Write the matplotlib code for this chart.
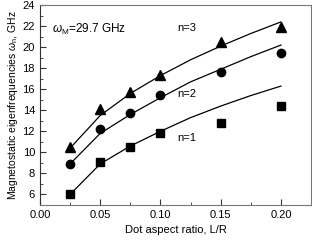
import matplotlib.pyplot as plt
from matplotlib.ticker import MultipleLocator

plt.rcParams['font.family'] = ['Liberation Sans', 'DejaVu Sans']
plt.rcParams['mathtext.fontset'] = 'custom'
plt.rcParams['mathtext.rm'] = 'Liberation Sans'
plt.rcParams['mathtext.it'] = 'Liberation Sans:italic'

# measured points
x_pts = [0.025, 0.05, 0.075, 0.10, 0.15, 0.20]
n1_pts = [6.0, 9.1, 10.5, 11.8, 12.8, 14.4]
n2_pts = [8.9, 12.2, 13.7, 15.5, 17.6, 19.4]
n3_pts = [10.5, 14.1, 15.7, 17.4, 20.5, 21.9]

# theory curves
x_th = [0.025, 0.05, 0.075, 0.10, 0.125, 0.15, 0.175, 0.20]
n1_th = [6.0, 8.9, 10.6, 12.0, 13.3, 14.4, 15.4, 16.3]
n2_th = [8.9, 11.8, 13.6, 15.2, 16.7, 17.9, 19.1, 20.2]
n3_th = [10.4, 13.5, 15.6, 17.3, 18.8, 20.1, 21.3, 22.4]

fig = plt.figure(figsize=(3.12, 2.42), dpi=100)
ax = fig.add_axes([0.128, 0.153, 0.869, 0.826])

for yth in (n1_th, n2_th, n3_th):
    ax.plot(x_th, yth, color='black', lw=0.9)

ax.plot(x_pts, n1_pts, 's', color='black', ms=5.5)
ax.plot(x_pts, n2_pts, 'o', color='black', ms=6)
ax.plot(x_pts, n3_pts, '^', color='black', ms=6.5)

ax.text(0.1215, 21.5, 'n=3', fontsize=8, ha='center')
ax.text(0.1215, 15.3, 'n=2', fontsize=8, ha='center')
ax.text(0.1215, 11.1, 'n=1', fontsize=8, ha='center')
ax.text(0.010, 21.4, r'$\omega_{\rm M}$=29.7 GHz', fontsize=8.5)

ax.set_xlim(0, 0.225)
ax.set_ylim(5, 24)
ax.xaxis.set_major_locator(MultipleLocator(0.05))
ax.xaxis.set_minor_locator(MultipleLocator(0.025))
ax.yaxis.set_minor_locator(MultipleLocator(1))
ax.set_yticks(range(6, 25, 2))
ax.xaxis.set_major_formatter(plt.FormatStrFormatter('%.2f'))
ax.tick_params(which='both', direction='in', labelsize=8, color='#333333')
ax.tick_params(which='major', length=4)
ax.tick_params(which='minor', length=2)

for s in ax.spines.values():
    s.set_color('#777777')
ax.spines['left'].set_color('#333333')

ax.set_xlabel('Dot aspect ratio, L/R', fontsize=8, labelpad=4)
ax.set_ylabel(r'Magnetostatic eigenfrequencies $\omega_{\rm n}$, GHz', fontsize=7.5, labelpad=2)

fig.savefig('out.png', dpi=100)
